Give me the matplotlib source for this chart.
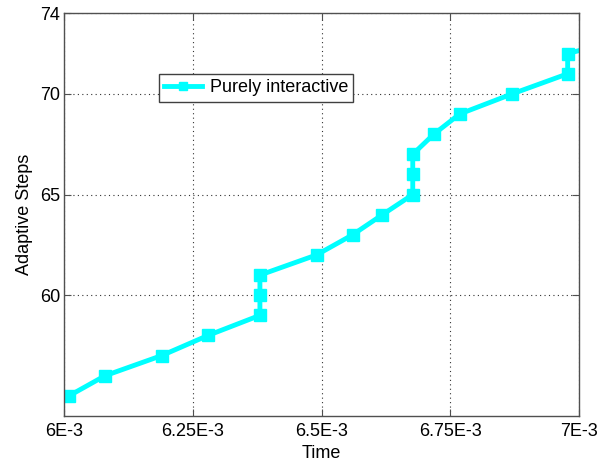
import matplotlib
matplotlib.use("Agg")
import matplotlib.pyplot as plt

# adaptive step count over simulated time
time = [6.009e-3, 6.079e-3, 6.189e-3, 6.279e-3, 6.380e-3, 6.380e-3, 6.380e-3,
        6.490e-3, 6.560e-3, 6.618e-3, 6.677e-3, 6.677e-3, 6.677e-3, 6.718e-3,
        6.768e-3, 6.870e-3, 6.978e-3, 6.978e-3, 7.122e-3]
steps = [55, 56, 57, 58, 59, 60, 61, 62, 63, 64, 65, 66, 67, 68, 69, 70, 71, 72, 73]

xticks = [6.0e-3, 6.25e-3, 6.5e-3, 6.75e-3, 7.0e-3]
xtick_labels = ["6E-3", "6.25E-3", "6.5E-3", "6.75E-3", "7E-3"]
yticks = [60, 65, 70, 74]

plt.rcParams['font.family'] = ['Liberation Sans', 'DejaVu Sans']

fig = plt.figure(figsize=(6.13, 4.62), dpi=100)
ax = fig.add_axes([0.105, 0.0996, 0.8395, 0.8714])

ax.plot(time, steps, color=(0, 1, 1), lw=3.5, marker='s', ms=8,
        mfc=(0, 1, 1), mec=(0, 1, 1), label="Purely interactive")

ax.set_xlim(6.0e-3, 7.0e-3)
ax.set_ylim(54, 74)
ax.set_xticks(xticks)
ax.set_xticklabels(xtick_labels)
ax.set_yticks(yticks)

ax.grid(True, color='#333333', linestyle=(0, (1, 3)), linewidth=0.8)
ax.set_axisbelow(True)
ax.tick_params(direction='in', length=5, top=True, right=True, labelsize=13,
               color='#505050')
ax.tick_params(axis='x', pad=5)
ax.tick_params(axis='y', pad=3)
for sp in ax.spines.values():
    sp.set_color('#505050')
    sp.set_linewidth(1.0)

ax.set_xlabel("Time", fontsize=13, labelpad=4)
ax.set_ylabel("Adaptive Steps", fontsize=13, labelpad=5)

leg = ax.legend(loc='upper left', bbox_to_anchor=(0.184, 0.850), borderaxespad=0,
                fancybox=False, framealpha=1, edgecolor='#404040', fontsize=13,
                handlelength=2.1, handletextpad=0.4, markerscale=0.8,
                borderpad=0.3)
leg.get_frame().set_linewidth(1.0)

fig.savefig("out.png", dpi=100)
